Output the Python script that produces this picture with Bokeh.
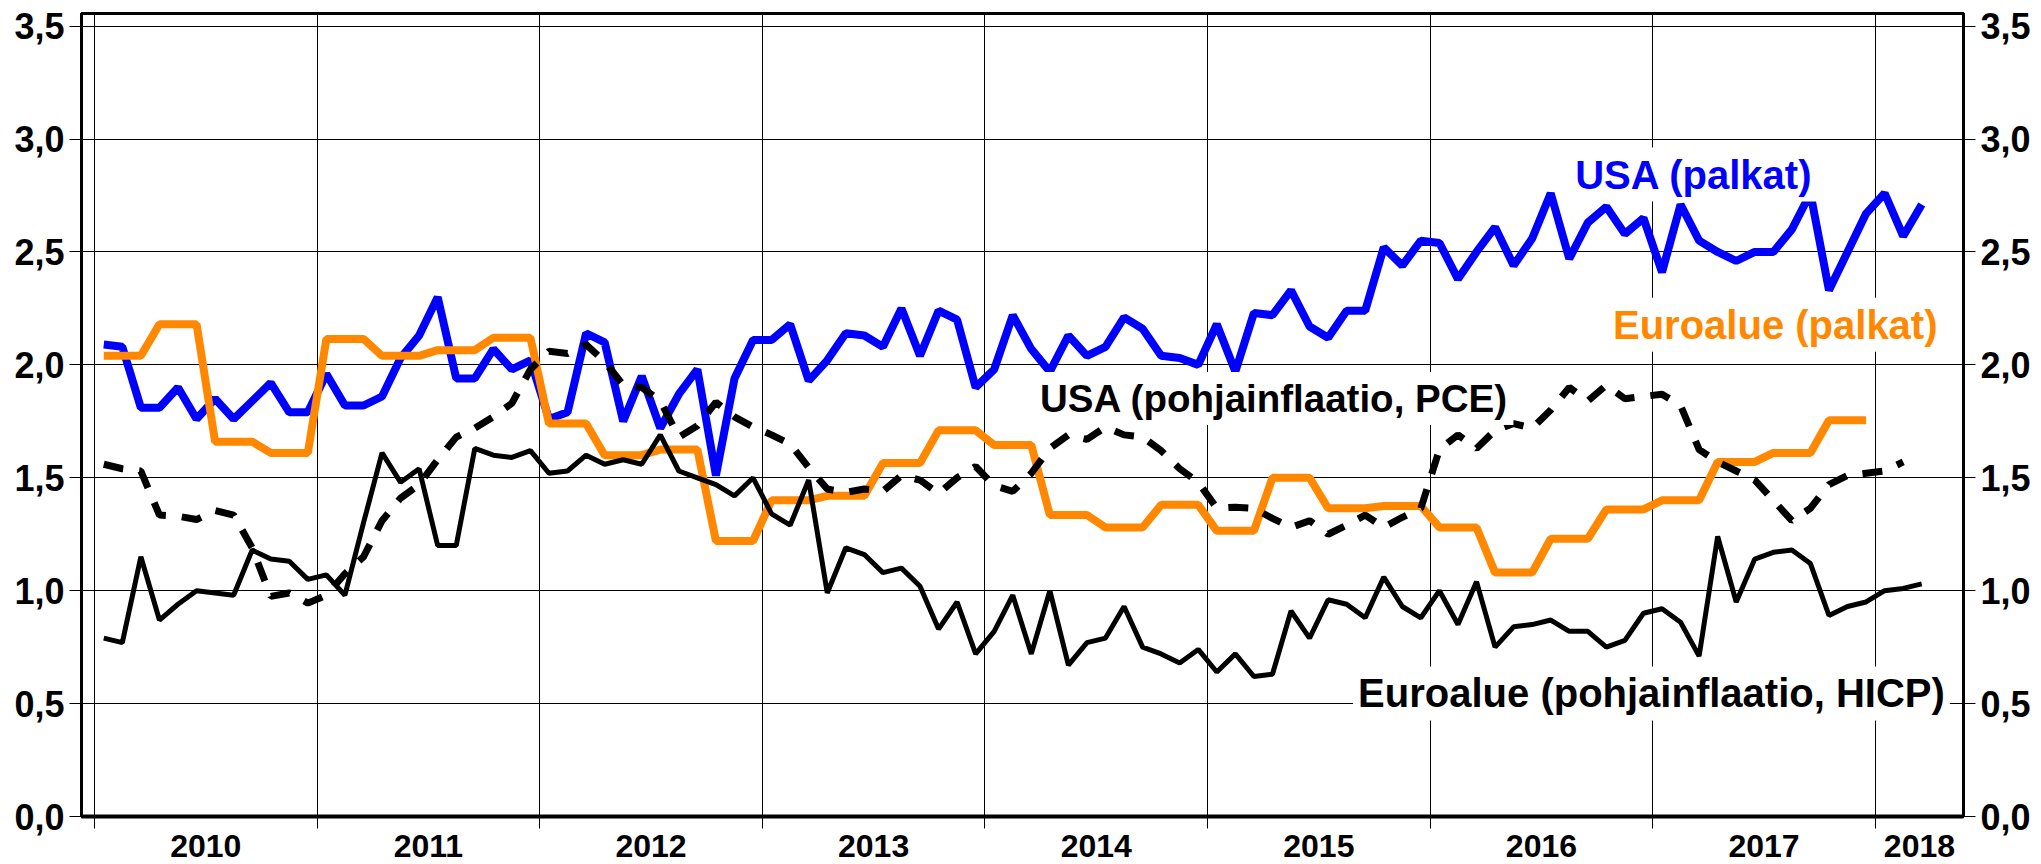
import numpy as np
from bokeh.plotting import figure
from bokeh.models import Range1d, LinearAxis, FixedTicker, CustomJSTickFormatter, Label
from bokeh.embed import file_html
from bokeh.resources import INLINE

# ---------------- data (monthly, first value = January 2010) ----------------
START_YEAR = 2010

usa_wages = [
    2.09, 2.08, 1.81, 1.81, 1.90, 1.76, 1.85, 1.76, 1.84, 1.92, 1.79, 1.79,   # 2010
    1.96, 1.82, 1.82, 1.86, 2.03, 2.13, 2.30, 1.94, 1.94, 2.07, 1.98, 2.02,   # 2011
    1.76, 1.79, 2.14, 2.10, 1.75, 1.95, 1.72, 1.87, 1.98, 1.51, 1.94, 2.11,   # 2012
    2.11, 2.18, 1.93, 2.02, 2.14, 2.13, 2.08, 2.25, 2.04, 2.24, 2.20, 1.90,   # 2013
    1.98, 2.22, 2.07, 1.97, 2.13, 2.04, 2.08, 2.21, 2.16, 2.04, 2.03, 2.00,   # 2014
    2.18, 1.97, 2.23, 2.22, 2.33, 2.17, 2.12, 2.24, 2.24, 2.52, 2.44, 2.55,   # 2015
    2.54, 2.38, 2.50, 2.61, 2.44, 2.56, 2.76, 2.47, 2.63, 2.70, 2.58, 2.65,   # 2016
    2.41, 2.71, 2.55, 2.50, 2.46, 2.50, 2.50, 2.60, 2.76, 2.33, 2.50, 2.67,   # 2017
    2.76, 2.57, 2.71,                                                         # 2018
]

# euro area wages are quarterly (2010Q1 ... 2017Q4), drawn as monthly steps
euro_wages_quarterly = [
    2.04, 2.18, 1.66, 1.61,      # 2010
    2.115, 2.04, 2.065, 2.12,    # 2011
    1.74, 1.60, 1.625, 1.22,     # 2012
    1.40, 1.42, 1.565, 1.71,     # 2013
    1.645, 1.335, 1.28, 1.38,    # 2014
    1.265, 1.50, 1.365, 1.375,   # 2015
    1.28, 1.08, 1.23, 1.36,      # 2016
    1.40, 1.57, 1.61, 1.755,     # 2017
]

usa_core_pce = [
    1.56, 1.54, 1.53, 1.335, 1.33, 1.315, 1.355, 1.335, 1.19, 0.975, 0.99, 0.945,   # 2010
    0.98, 1.075, 1.15, 1.31, 1.41, 1.47, 1.58, 1.68, 1.72, 1.77, 1.83, 1.98,        # 2011
    2.06, 2.05, 2.09, 2.015, 1.91, 1.90, 1.84, 1.68, 1.73, 1.835, 1.77, 1.725,      # 2012
    1.69, 1.65, 1.545, 1.45, 1.435, 1.45, 1.44, 1.51, 1.49, 1.43, 1.50, 1.55,       # 2013
    1.465, 1.44, 1.52, 1.63, 1.69, 1.67, 1.725, 1.69, 1.68, 1.62, 1.54, 1.48,       # 2014
    1.365, 1.37, 1.365, 1.32, 1.28, 1.31, 1.25, 1.29, 1.335, 1.28, 1.325, 1.365,    # 2015
    1.625, 1.69, 1.63, 1.71, 1.74, 1.72, 1.80, 1.90, 1.84, 1.91, 1.85, 1.86,        # 2016
    1.87, 1.82, 1.625, 1.57, 1.53, 1.49, 1.40, 1.31, 1.365, 1.47, 1.51, 1.52,       # 2017
    1.53, 1.57,                                                                      # 2018
]

euro_core_hicp = [
    0.79, 0.77, 1.15, 0.87, 0.94, 1.00, 0.99, 0.98, 1.18, 1.14, 1.13, 1.05,   # 2010
    1.07, 0.98, 1.30, 1.61, 1.48, 1.54, 1.20, 1.20, 1.63, 1.60, 1.59, 1.62,   # 2011
    1.52, 1.53, 1.60, 1.56, 1.58, 1.56, 1.69, 1.53, 1.50, 1.47, 1.42, 1.50,   # 2012
    1.34, 1.29, 1.49, 0.99, 1.19, 1.16, 1.08, 1.10, 1.02, 0.83, 0.95, 0.72,   # 2013
    0.82, 0.98, 0.72, 1.00, 0.67, 0.77, 0.79, 0.93, 0.75, 0.72, 0.68, 0.74,   # 2014
    0.64, 0.72, 0.62, 0.63, 0.91, 0.79, 0.96, 0.94, 0.88, 1.06, 0.93, 0.88,   # 2015
    1.00, 0.85, 1.04, 0.75, 0.84, 0.85, 0.87, 0.82, 0.82, 0.75, 0.78, 0.90,   # 2016
    0.92, 0.86, 0.71, 1.24, 0.95, 1.14, 1.17, 1.18, 1.12, 0.89, 0.93, 0.95,   # 2017
    1.00, 1.01, 1.03,                                                         # 2018
]

year_labels = ["2010", "2011", "2012", "2013", "2014", "2015", "2016", "2017", "2018"]
y_ticks = [0.0, 0.5, 1.0, 1.5, 2.0, 2.5, 3.0, 3.5]

series_labels = ["USA (palkat)", "Euroalue (palkat)",
                 "USA (pohjainflaatio, PCE)", "Euroalue (pohjainflaatio, HICP)"]

# ---------------- layout / style constants ----------------
X_START, X_END = 2009.9416, 2018.396
Y_START, Y_END = 0.0, 3.556
FONT = "Liberation Sans"
BLUE = "#0000FF"
ORANGE = "#FF8800"

def month_x(n):
    return START_YEAR + (np.arange(n) + 0.5) / 12.0

euro_wages = np.repeat(euro_wages_quarterly, 3)
year_bounds = [float(START_YEAR + i) for i in range(len(year_labels))]
year_centres = [(b + min(b + 1.0, X_END)) / 2.0 for b in year_bounds]

p = figure(width=2041, height=864,
           x_range=Range1d(X_START, X_END), y_range=Range1d(Y_START, Y_END),
           output_backend="svg", toolbar_location=None,
           min_border_left=81, min_border_right=78, min_border_top=13, min_border_bottom=48,
           background_fill_color="white", border_fill_color="white")

p.outline_line_color = "black"
p.outline_line_width = 3

# grids
p.xgrid.ticker = FixedTicker(ticks=year_bounds)
p.xgrid.grid_line_color = "black"
p.xgrid.grid_line_width = 1
p.ygrid.ticker = FixedTicker(ticks=y_ticks)
p.ygrid.grid_line_color = "black"
p.ygrid.grid_line_width = 1

# bottom axis: tick marks at year boundaries, year labels centred in each year
xa = p.xaxis[0]
xa.ticker = FixedTicker(ticks=year_centres, minor_ticks=year_bounds)
xa.formatter = CustomJSTickFormatter(args=dict(labels=year_labels, start=START_YEAR),
                                     code="return labels[Math.floor(tick) - start];")
xa.major_tick_line_color = None
xa.major_tick_out = 0
xa.major_tick_in = 0
xa.minor_tick_out = 12
xa.minor_tick_in = 0
xa.minor_tick_line_color = "black"
xa.minor_tick_line_width = 1
xa.axis_line_width = 4
xa.axis_line_color = "black"
xa.major_label_text_font = FONT
xa.major_label_text_font_style = "bold"
xa.major_label_text_font_size = "32px"
xa.major_label_text_color = "black"
xa.major_label_standoff = 6

fmt_code = "return tick.toFixed(1).replace('.', ',');"

def style_y(ax):
    ax.ticker = FixedTicker(ticks=y_ticks)
    ax.formatter = CustomJSTickFormatter(code=fmt_code)
    ax.major_tick_out = 12
    ax.major_tick_in = 0
    ax.major_tick_line_color = "black"
    ax.major_tick_line_width = 1
    ax.minor_tick_line_color = None
    ax.axis_line_width = 3
    ax.axis_line_color = "black"
    ax.major_label_text_font = FONT
    ax.major_label_text_font_style = "bold"
    ax.major_label_text_font_size = "36px"
    ax.major_label_text_color = "black"
    ax.major_label_standoff = 5

style_y(p.yaxis[0])
right_axis = LinearAxis()
style_y(right_axis)
p.add_layout(right_axis, "right")

# series
p.line(month_x(len(usa_wages)), usa_wages, line_color=BLUE, line_width=8)
p.line(month_x(len(euro_wages)), euro_wages, line_color=ORANGE, line_width=8)
p.line(month_x(len(usa_core_pce)), usa_core_pce, line_color="black", line_width=7,
       line_dash="20 16")
p.line(month_x(len(euro_core_hicp)), euro_core_hicp, line_color="black", line_width=5)

# series labels (white boxes like the original)
label_pos = [(2016.629, 2.843), (2016.799, 2.178), (2014.225, 1.851), (2015.654, 0.545)]
label_col = [BLUE, ORANGE, "black", "black"]
label_size = ["40px", "40px", "38.5px", "40px"]
for (lx, ly), txt, col, fs in zip(label_pos, series_labels, label_col, label_size):
    p.add_layout(Label(x=lx, y=ly, text=txt, text_color=col, text_font=FONT,
                       text_font_style="bold", text_font_size=fs,
                       text_baseline="alphabetic", text_align="left",
                       background_fill_color="white", padding=5))

open("out.html", "w").write(file_html(p, INLINE))
